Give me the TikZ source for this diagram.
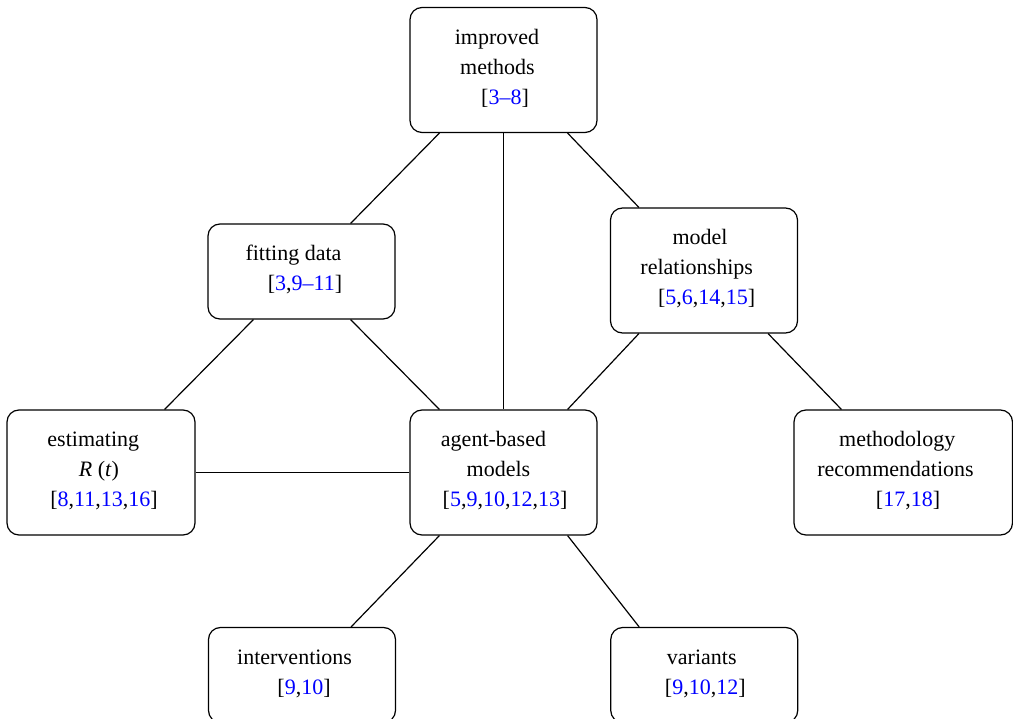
\documentclass[tikz,border=0pt]{standalone}
\usepackage{fontspec}
\setmainfont{Liberation Serif}
\definecolor{citeblue}{RGB}{0,0,255}
\newcommand\cn[1]{\textcolor{citeblue}{#1}}
\newcommand\mvl[2]{\mbox{\kern#1pt\relax#2\kern-#1pt\relax}}
\newcommand\stl{\rule[-10.5pt]{0pt}{30pt}}
\begin{document}
\begin{tikzpicture}[x=1pt,y=-1pt,
  box/.style={draw, rounded corners=12pt, line width=1.2pt, inner sep=0pt,
    align=center, font=\fontsize{22}{30}\selectfont,
    minimum width=187pt, minimum height=125pt},
  lowbox/.style={box, minimum height=95pt},
  link/.style={line width=1.2pt}]
\useasboundingbox (0,0) rectangle (1013,719);
\clip (0,0) rectangle (1013,719);
\node[box] (im) at (503.5,70) {\mvl{-6.5}{improved}\stl\\\mvl{-6}{methods}\stl\\\mvl{1.5}{[\cn{3--8}]}\stl};
\node[lowbox] (fit) at (301.5,271.5) {\mvl{-8}{fitting data}\stl\\\mvl{3.5}{[\cn{3},\cn{9--11}]}\stl};
\node[box] (mr) at (704,270.5) {\mvl{-4}{model}\stl\\\mvl{-7.3}{relationships}\stl\\\mvl{2.7}{[\cn{5},\cn{6},\cn{14},\cn{15}]}\stl};
\node[box, minimum width=188pt] (est) at (101,472.5) {\mvl{-7.7}{estimating}\stl\\\mvl{-2}{\textit{R} (\textit{t})}\stl\\\mvl{3}{[\cn{8},\cn{11},\cn{13},\cn{16}]}\stl};
\node[box] (ab) at (503.5,472.5) {\mvl{-10}{agent-based}\stl\\\mvl{-5}{models}\stl\\\mvl{1.5}{[\cn{5},\cn{9},\cn{10},\cn{12},\cn{13}]}\stl};
\node[box, minimum width=218.5pt] (meth) at (903.25,472.5) {\mvl{-6}{methodology}\stl\\\mvl{-7.7}{recommendations}\stl\\\mvl{4.8}{[\cn{17},\cn{18}]}\stl};
\node[lowbox] (int) at (302,675) {\mvl{-7.4}{interventions}\stl\\\mvl{2}{[\cn{9},\cn{10}]}\stl};
\node[lowbox] (var) at (704.25,675) {\mvl{-2.5}{variants}\stl\\\mvl{1}{[\cn{9},\cn{10},\cn{12}]}\stl};
\draw[link] ([xshift=30pt]im.south west) -- ([xshift=-45pt]fit.north east);
\draw[link] (im.south) -- (ab.north);
\draw[link] ([xshift=-30pt]im.south east) -- ([xshift=29pt]mr.north west);
\draw[link] ([xshift=46pt]fit.south west) -- ([xshift=-31pt]est.north east);
\draw[link] ([xshift=-45pt]fit.south east) -- ([xshift=30pt]ab.north west);
\draw[link] ([xshift=29pt]mr.south west) -- ([xshift=-30pt]ab.north east);
\draw[link] ([xshift=-30pt]mr.south east) -- ([xshift=48pt]meth.north west);
\draw[link] (est.east) -- (ab.west);
\draw[link] ([xshift=30pt]ab.south west) -- ([xshift=-45pt]int.north east);
\draw[link] ([xshift=-30pt]ab.south east) -- ([xshift=29pt]var.north west);
\end{tikzpicture}
\end{document}
